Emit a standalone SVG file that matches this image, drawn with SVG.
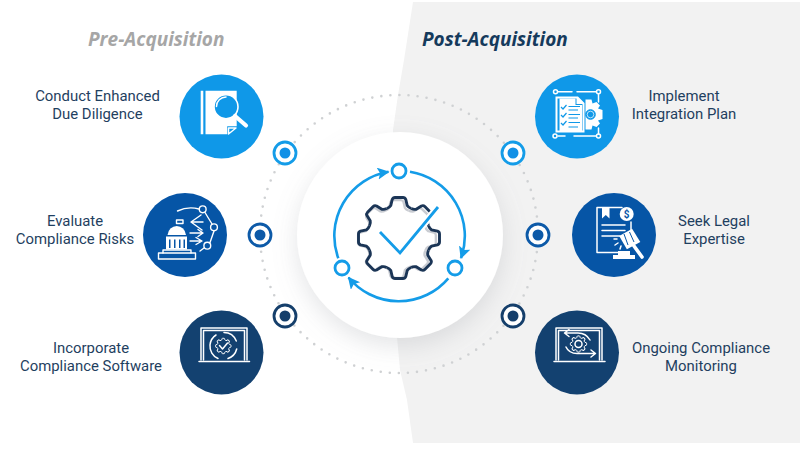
<svg xmlns="http://www.w3.org/2000/svg" width="800" height="461" viewBox="0 0 800 461">
<style>
.lb{font-family:Roboto,"Liberation Sans",sans-serif;font-size:14.9px;fill:#1f3f5f;text-anchor:middle}
.tt{font-family:"Open Sans","Liberation Sans",sans-serif;font-size:19px;font-weight:700;font-style:italic}
.w{fill:none;stroke:#fff;stroke-width:1.5;stroke-linecap:round;stroke-linejoin:round}
.wf{fill:#fff;stroke:none}
.arc{fill:none;stroke:#149ce8;stroke-width:2.6;marker-end:url(#ah)}
.nd{fill:#fff;stroke:#149ce8;stroke-width:2.8}
</style>
<defs>
<filter id="sh" x="-30%" y="-30%" width="160%" height="170%"><feDropShadow dx="0" dy="8" stdDeviation="12" flood-color="#8a8f96" flood-opacity=".24"/></filter>
<marker id="ah" markerUnits="userSpaceOnUse" markerWidth="14" markerHeight="14" refX="11" refY="6" orient="auto"><path d="M0,0L12,6L0,12L2.500,6Z" fill="#149ce8"/></marker>
<path id="tooth" d="M-12.200,-29.500Q-9.500,-30.500 -8.200,-32.500L-6.800,-38.500Q-6,-40.500 -4,-40.500L4,-40.500Q6,-40.500 6.800,-38.500L8.200,-32.500Q9.500,-30.500 12.200,-29.500"/>
<g id="gear">
<use href="#tooth"/><use href="#tooth" transform="rotate(45)"/><use href="#tooth" transform="rotate(90)"/><use href="#tooth" transform="rotate(135)"/><use href="#tooth" transform="rotate(180)"/><use href="#tooth" transform="rotate(225)"/><use href="#tooth" transform="rotate(270)"/><use href="#tooth" transform="rotate(315)"/>
</g>
</defs>
<rect width="800" height="461" fill="#fff"/>
<path id="panel" d="M413,2H800V443H413L407,400L400,370Q393,300 392,235Q392,170 393,130L398,95L404,60Z" fill="#f2f2f2"/>

<g id="connectors">
<circle cx="399" cy="234" r="139" fill="none" stroke="#cfd1d3" stroke-width="2.6" stroke-linecap="round" stroke-dasharray="0 9.100"/>
</g>

<g id="hub">
<circle cx="400" cy="235" r="103" fill="#fff" filter="url(#sh)"/>
<path class="arc" d="M410,171.800A65,65 0 0 1 461,258"/>
<path class="arc" d="M448.300,278.300A65,65 0 0 1 348.500,277.500"/>
<path class="arc" d="M338.300,258.300A65,65 0 0 1 388.500,171.800"/>
<circle class="nd" cx="399" cy="171" r="7"/>
<circle class="nd" cx="455" cy="268" r="7"/>
<circle class="nd" cx="342" cy="268" r="7"/>
<g transform="translate(399,238)" fill="none" stroke-linejoin="round">
<use href="#gear" stroke="#c9ccd2" stroke-width="2.500" transform="translate(-2,1) scale(.96)"/>
<use href="#gear" stroke="#1b3556" stroke-width="2.900"/>
</g>
<path d="M380,232L400,253L438,207" fill="none" stroke="#fff" stroke-width="7"/>
<path d="M380,232L400,253L438,207" fill="none" stroke="#149ce8" stroke-width="2.800"/>
</g>

<g id="dots">
<g fill="#fff" stroke="#149ce8" stroke-width="2.800"><circle cx="285" cy="153" r="11"/><circle cx="513" cy="153" r="11"/></g>
<g fill="#1190e6"><circle cx="285" cy="153" r="5.500"/><circle cx="513" cy="153" r="5.500"/></g>
<g fill="#fff" stroke="#0d5aa8" stroke-width="2.800"><circle cx="260" cy="235" r="11"/><circle cx="538" cy="235" r="11"/></g>
<g fill="#0d5aa8"><circle cx="260" cy="235" r="5.500"/><circle cx="538" cy="235" r="5.500"/></g>
<g fill="#fff" stroke="#153f6b" stroke-width="2.800"><circle cx="285" cy="316" r="11"/><circle cx="513" cy="316" r="11"/></g>
<g fill="#153f6b"><circle cx="285" cy="316" r="5.500"/><circle cx="513" cy="316" r="5.500"/></g>
</g>

<text class="tt" x="88" y="46" fill="#a6a6a6">Pre-Acquisition</text>
<text class="tt" x="422" y="46" fill="#153a5c">Post-Acquisition</text>

<g id="due-diligence">
<circle cx="221.500" cy="116.500" r="42" fill="#0f98e8"/>
<path class="wf" d="M200.700,90.700h2.600v43.600h-2.600zM205.500,90.700h31.200v35.500h-9.500v8.100h-21.700z"/>
<path class="w" d="M228.500,134V128h7.500z"/>
<circle cx="226" cy="106.700" r="12" fill="#0f98e8" stroke="#fff" stroke-width="1.600"/>
<path class="w" d="M216.500,106.500A9.500,9.500 0 0 1 226,97" stroke-width="1"/>
<path d="M235,116L246,125.500" stroke="#fff" stroke-width="4.200" stroke-linecap="round"/>
<text class="lb" x="97.500" y="101">Conduct Enhanced</text>
<text class="lb" x="97.500" y="119">Due Diligence</text>
</g>

<g id="compliance-risks">
<circle cx="185" cy="235" r="42" fill="#0655a6"/>
<g class="w" style="stroke-width:1.400">
<path d="M177.500,211Q188,206 199,209"/>
<circle cx="202.700" cy="209.300" r="3.400"/><circle cx="214" cy="227.300" r="3.400"/><circle cx="207.300" cy="245.700" r="3.400"/>
<path d="M205,212.500L212,224M214,231L210,242.500M204,248L200,251"/>
<path d="M201,215L191,222L202,230M191,222H203"/>
<path d="M190,233H202M198,229.500L203,233L198,236.500M190,241H200M196,237.500L202,241L196,244.500"/>
<rect x="158.500" y="253" width="37" height="6"/>
<path d="M163,253V250H191V253"/>
<rect x="176.500" y="220" width="6.500" height="3.500"/>
</g>
<path class="wf" d="M167.500,235A9.300,10 0 0 1 186,235Z"/>
<path class="wf" d="M166,236.500h21v13h-21zM169,239.500v8.500h1.500v-8.500zM174,239.500v8.500h1.500v-8.500zM179,239.500v8.500h1.500v-8.500zM183.500,239.500v8.500h1.500v-8.500z" fill-rule="evenodd"/>
<text class="lb" x="75" y="226">Evaluate</text>
<text class="lb" x="75" y="244">Compliance Risks</text>
</g>

<g id="compliance-software">
<circle cx="221.500" cy="352.500" r="42" fill="#134170"/>
<path class="w" d="M201,360V328H247V360" stroke-width="1.500"/>
<path class="w" d="M203.500,360V330.500H244.500V360" stroke-width=".8"/>
<path class="w" d="M199,361.500H249.500" stroke-width="2"/>
<g transform="translate(223.300,346) scale(.19)" stroke="#fff" fill="none" stroke-width="5"><use href="#gear"/></g>
<path class="w" d="M219.500,345.500L222.500,349L227.500,343" stroke-width="1.200"/>
<path class="w" d="M224,332.500A13.500,13.500 0 0 1 236.300,341M236.700,349A13.500,13.500 0 0 1 228,358.500M218,358.500A13.500,13.500 0 0 1 210,345A13.500,13.500 0 0 1 216,335" stroke-width=".9"/>
<text class="lb" x="91" y="353">Incorporate</text>
<text class="lb" x="91" y="371">Compliance Software</text>
</g>

<g id="integration-plan">
<circle cx="577" cy="116.500" r="42" fill="#0f98e8"/>
<g class="w">
<circle cx="555.500" cy="91.700" r="2"/><circle cx="598.500" cy="91.700" r="2"/><circle cx="555" cy="136" r="2"/><circle cx="598.500" cy="136" r="2"/>
<path d="M558,91.700H572M577,91.700H596M558,136H565M574,136H596M598.500,94V102M598.500,128V134"/>
</g>
<path class="wf" d="M555.500,96.500H578L584.500,103V132.500H555.500ZM557.500,98.500V130.500H582.500V104H576.500V98.500Z" fill-rule="evenodd"/>
<path class="wf" d="M559.500,98.500H575.500V105H582V131H559.500Z"/>
<path d="M561,107L563,109L566.500,105M561,115L563,117L566.500,113M561,123L563,125L566.500,121" fill="none" stroke="#0f98e8" stroke-width="1.200"/>
<path d="M568.500,106.500H580M568.500,110H578M568.500,114.500H580M568.500,118H578M568.500,122.500H580M568.500,127H578" fill="none" stroke="#0f98e8" stroke-width="1.200"/>
<g transform="translate(590.500,114.500)">
<path class="wf" d="M-5,-15H1L2,-11L6,-12.500L9.500,-9L7.500,-6L12,-4.500V4.500L7.500,6L9.500,9L6,12.500L2,11L1,15H-5Z"/>
<circle r="4.800" fill="#0f98e8" stroke="#0f98e8"/>
<circle r="3.300" fill="none" stroke="#fff" stroke-width=".7"/>
</g>
<text class="lb" x="684" y="101">Implement</text>
<text class="lb" x="684" y="119">Integration Plan</text>
</g>

<g id="legal-expertise">
<circle cx="614" cy="235" r="42" fill="#0655a6"/>
<path class="w" d="M618,252.500H597V207.500H622M631,222V230"/>
<path class="wf" d="M602,207.500H609.500V218.500L605.800,215L602,218.500Z"/>
<path class="w" d="M602,225H625M602,230.500H625M602,236H620"/>
<circle cx="626.700" cy="214" r="7" fill="#fff"/>
<text x="626.700" y="217.500" font-family="Roboto,sans-serif" font-size="10" font-weight="700" fill="#0655a6" text-anchor="middle">$</text>
<path class="wf" d="M619.500,235L633,229L640,243L626,249Z" transform="rotate(-5 630 239)"/>
<path d="M624,234L628,245M629.500,232L634,242" stroke="#0655a6" stroke-width="1" fill="none"/>
<path d="M634,246L642,257" stroke="#fff" stroke-width="3.600" stroke-linecap="round"/>
<path class="wf" d="M618,251H630V255H635V259H613V255H618Z"/>
<path class="w" d="M617,239H614M618,243L615,245M621,246L620,249" stroke-width="1"/>
<text class="lb" x="714" y="226">Seek Legal</text>
<text class="lb" x="714" y="244">Expertise</text>
</g>

<g id="compliance-monitoring">
<circle cx="577" cy="352.500" r="42" fill="#134170"/>
<path class="w" d="M556,360V328H602V360"/>
<path class="w" d="M558.500,360V330.500H599.500V360" stroke-width=".8"/>
<path class="w" d="M554,361.500H605" stroke-width="2"/>
<g transform="translate(578.500,344) scale(.2)" stroke="#fff" fill="none" stroke-width="5"><use href="#gear"/></g>
<circle cx="578.500" cy="344" r="3.500" class="w" stroke-width="1"/>
<path class="w" d="M590,340Q586,333 578,333H565M569,329.500L564.500,333L569,336.500" stroke-width="1.100"/>
<path class="w" d="M566,347Q569,353.500 577,353.500H595M591,350L595.500,353.500L591,357" stroke-width="1.100"/>
<text class="lb" x="701" y="353">Ongoing Compliance</text>
<text class="lb" x="701" y="371">Monitoring</text>
</g>
</svg>
